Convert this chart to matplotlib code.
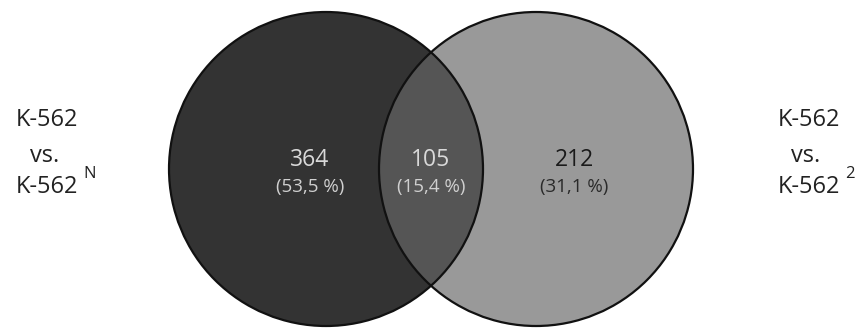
import matplotlib
matplotlib.use("Agg")
import matplotlib.pyplot as plt
from matplotlib.patches import Circle

plt.rcParams['font.family'] = ['Open Sans', 'DejaVu Sans']

# Venn counts: only left, shared, only right
counts = [364, 105, 212]
percents = ["53,5", "15,4", "31,1"]
left_label = ["K-562", "vs.", "K-562"]
left_sup = "N"
right_label = ["K-562", "vs.", "K-562"]
right_sup = "2"

fig = plt.figure(figsize=(8.61, 3.29), dpi=100)
ax = fig.add_axes([0, 0, 1, 1])
ax.set_xlim(0, 861)
ax.set_ylim(329, 0)
ax.set_aspect("equal")
ax.axis("off")

r = 157
cl = (326, 169)
cr = (536, 169)

ax.add_patch(Circle(cl, r, facecolor="#333333", edgecolor="none"))
ax.add_patch(Circle(cr, r, facecolor="#999999", edgecolor="none"))
# overlap region: left circle clipped by the right one
clip = Circle(cr, r, transform=ax.transData)
ov = Circle(cl, r, facecolor="#555555", edgecolor="none")
ax.add_patch(ov)
ov.set_clip_path(clip)
ax.add_patch(Circle(cl, r, facecolor="none", edgecolor="#111111", lw=1.6))
ax.add_patch(Circle(cr, r, facecolor="none", edgecolor="#111111", lw=1.6))

xs = [310, 431, 574]
num_col = ["#d9d9d9", "#d9d9d9", "#1a1a1a"]
pct_col = ["#d0d0d0", "#d0d0d0", "#2a2a2a"]
for x, n, p, c1, c2 in zip(xs, counts, percents, num_col, pct_col):
    ax.text(x, 160, str(n), ha="center", va="center", fontsize=16.5, color=c1)
    ax.text(x, 187, f"({p} %)", ha="center", va="center", fontsize=13.5, color=c2)

# side labels
ax.text(47, 120, left_label[0], ha="center", va="center", fontsize=17, color="#222222")
ax.text(45, 156, left_label[1], ha="center", va="center", fontsize=17, color="#222222")
ax.text(47, 187, left_label[2], ha="center", va="center", fontsize=17, color="#222222")
ax.text(90, 174, left_sup, ha="center", va="center", fontsize=12, color="#222222")

ax.text(809, 120, right_label[0], ha="center", va="center", fontsize=17, color="#222222")
ax.text(806, 156, right_label[1], ha="center", va="center", fontsize=17, color="#222222")
ax.text(809, 187, right_label[2], ha="center", va="center", fontsize=17, color="#222222")
ax.text(850, 174, right_sup, ha="center", va="center", fontsize=12, color="#222222")

fig.savefig("out.png", dpi=100, facecolor="white")
